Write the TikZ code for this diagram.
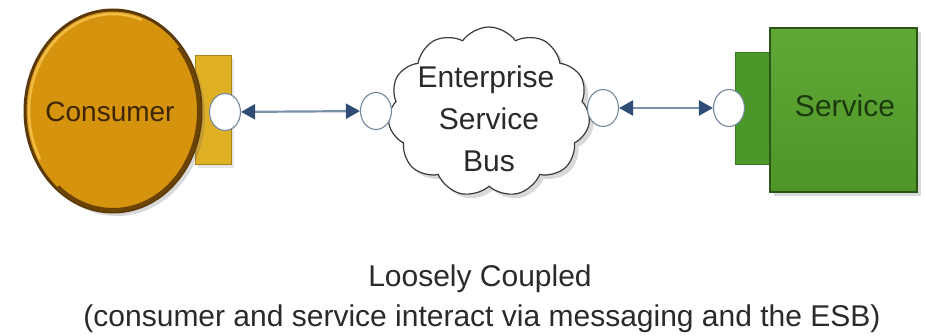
\documentclass[tikz,border=0pt]{standalone}
\usepackage{fontspec}
\setmainfont{Liberation Sans}
\usetikzlibrary{arrows.meta,shapes.geometric,shapes.symbols,shadows,calc}

\definecolor{conFill}{HTML}{D6940E}
\definecolor{conRim}{HTML}{5A3906}
\definecolor{conLight}{HTML}{F0BC45}
\definecolor{conDark}{HTML}{6A4305}
\definecolor{conTab}{HTML}{E0B024}
\definecolor{conTabLine}{HTML}{A88418}
\definecolor{conText}{HTML}{3E2604}
\definecolor{svcTop}{HTML}{60A836}
\definecolor{svcBot}{HTML}{4E9528}
\definecolor{svcLine}{HTML}{2C5418}
\definecolor{svcTab}{HTML}{4B982A}
\definecolor{svcTabLine}{HTML}{3A7A20}
\definecolor{svcText}{HTML}{1C3A0E}
\definecolor{portLine}{HTML}{74889E}
\definecolor{linkLine}{HTML}{7890AC}
\definecolor{linkHead}{HTML}{2E4C74}
\definecolor{cloudLine}{HTML}{3A3A3A}
\definecolor{inkText}{HTML}{2A2A2A}

\begin{document}
\begin{tikzpicture}[x=1pt,y=-1pt,
  port/.style={ellipse, draw=portLine, fill=white, line width=1.1pt,
    minimum width=31pt, minimum height=37pt, inner sep=0pt},
  link/.style={draw=linkLine, line width=2.2pt,
    {Triangle[length=14pt,width=15pt,color=linkHead]}-{Triangle[length=14pt,width=15pt,color=linkHead]}},
  softshadow/.style={drop shadow={shadow xshift=4pt, shadow yshift=-4pt,
    opacity=0.25, fill=black!60}},
  label/.style={inner sep=0pt, anchor=base, text=inkText,
    font=\fontsize{30}{36}\selectfont}]

\useasboundingbox (0,0) rectangle (926,336);

% ---- consumer: tab behind a bevelled disc ----
\node[rectangle, fill=conTab, draw=conTabLine, line width=1pt,
  minimum width=36pt, minimum height=109pt, inner sep=0pt,
  drop shadow={shadow xshift=3pt, shadow yshift=-3pt, opacity=0.2}]
  (ctab) at (213,110.5) {};
\node[ellipse, fill=conFill, draw=conRim, line width=3pt,
  minimum width=176pt, minimum height=202pt, inner sep=0pt, softshadow]
  (consumer) at (113,111) {};
% bevel: light inner edge top-left, heavier rim bottom-right
\draw[conLight, line width=2.5pt]
  ($(consumer.center)+({84*cos(150)},{97*sin(150)})$)
  arc[start angle=150, end angle=290, x radius=84, y radius=97];
\draw[conDark, line width=4pt]
  ($(consumer.center)+({86*cos(320)},{99*sin(320)})$)
  arc[start angle=320, end angle=490, x radius=86, y radius=99];
\node[label, text=conText, font=\fontsize{28}{34}\selectfont]
  (ctext) at (110,122) {Consumer};
\node[port] (cport) at (225,112) {};

% ---- the bus ----
\node[cloud, cloud puffs=11, cloud puff arc=110, aspect=1.2,
  draw=cloudLine, fill=white, line width=1.2pt,
  minimum width=202pt, minimum height=170pt, inner sep=0pt, softshadow]
  (esb) at (489,112) {};
\node[label] (esb1) at (486,88) {Enterprise};
\node[label] (esb2) at (489,130) {Service};
\node[label] (esb3) at (489,172) {Bus};
\node[port] (lport) at (376,111) {};
\node[port] (rport) at (603,108) {};

% ---- service: tab beside a box ----
\node[rectangle, fill=svcTab, draw=svcTabLine, line width=1pt,
  minimum width=37pt, minimum height=112pt, inner sep=0pt]
  (stab) at (753.5,109) {};
\node[rectangle, top color=svcTop, bottom color=svcBot, draw=svcLine,
  line width=2pt, minimum width=147pt, minimum height=164pt, inner sep=0pt,
  softshadow] (service) at (843.5,110) {};
\node[label, text=svcText] (stext) at (845,117) {Service};
\node[port] (sport) at (729,108) {};

% ---- message links ----
\draw[link] (cport) -- (lport);
\draw[link] (rport) -- (sport);

% ---- caption ----
\node[label] (cap1) at (480,287) {Loosely Coupled};
\node[label] (cap2) at (482,327)
  {(consumer and service interact via messaging and the ESB)};
\end{tikzpicture}
\end{document}
